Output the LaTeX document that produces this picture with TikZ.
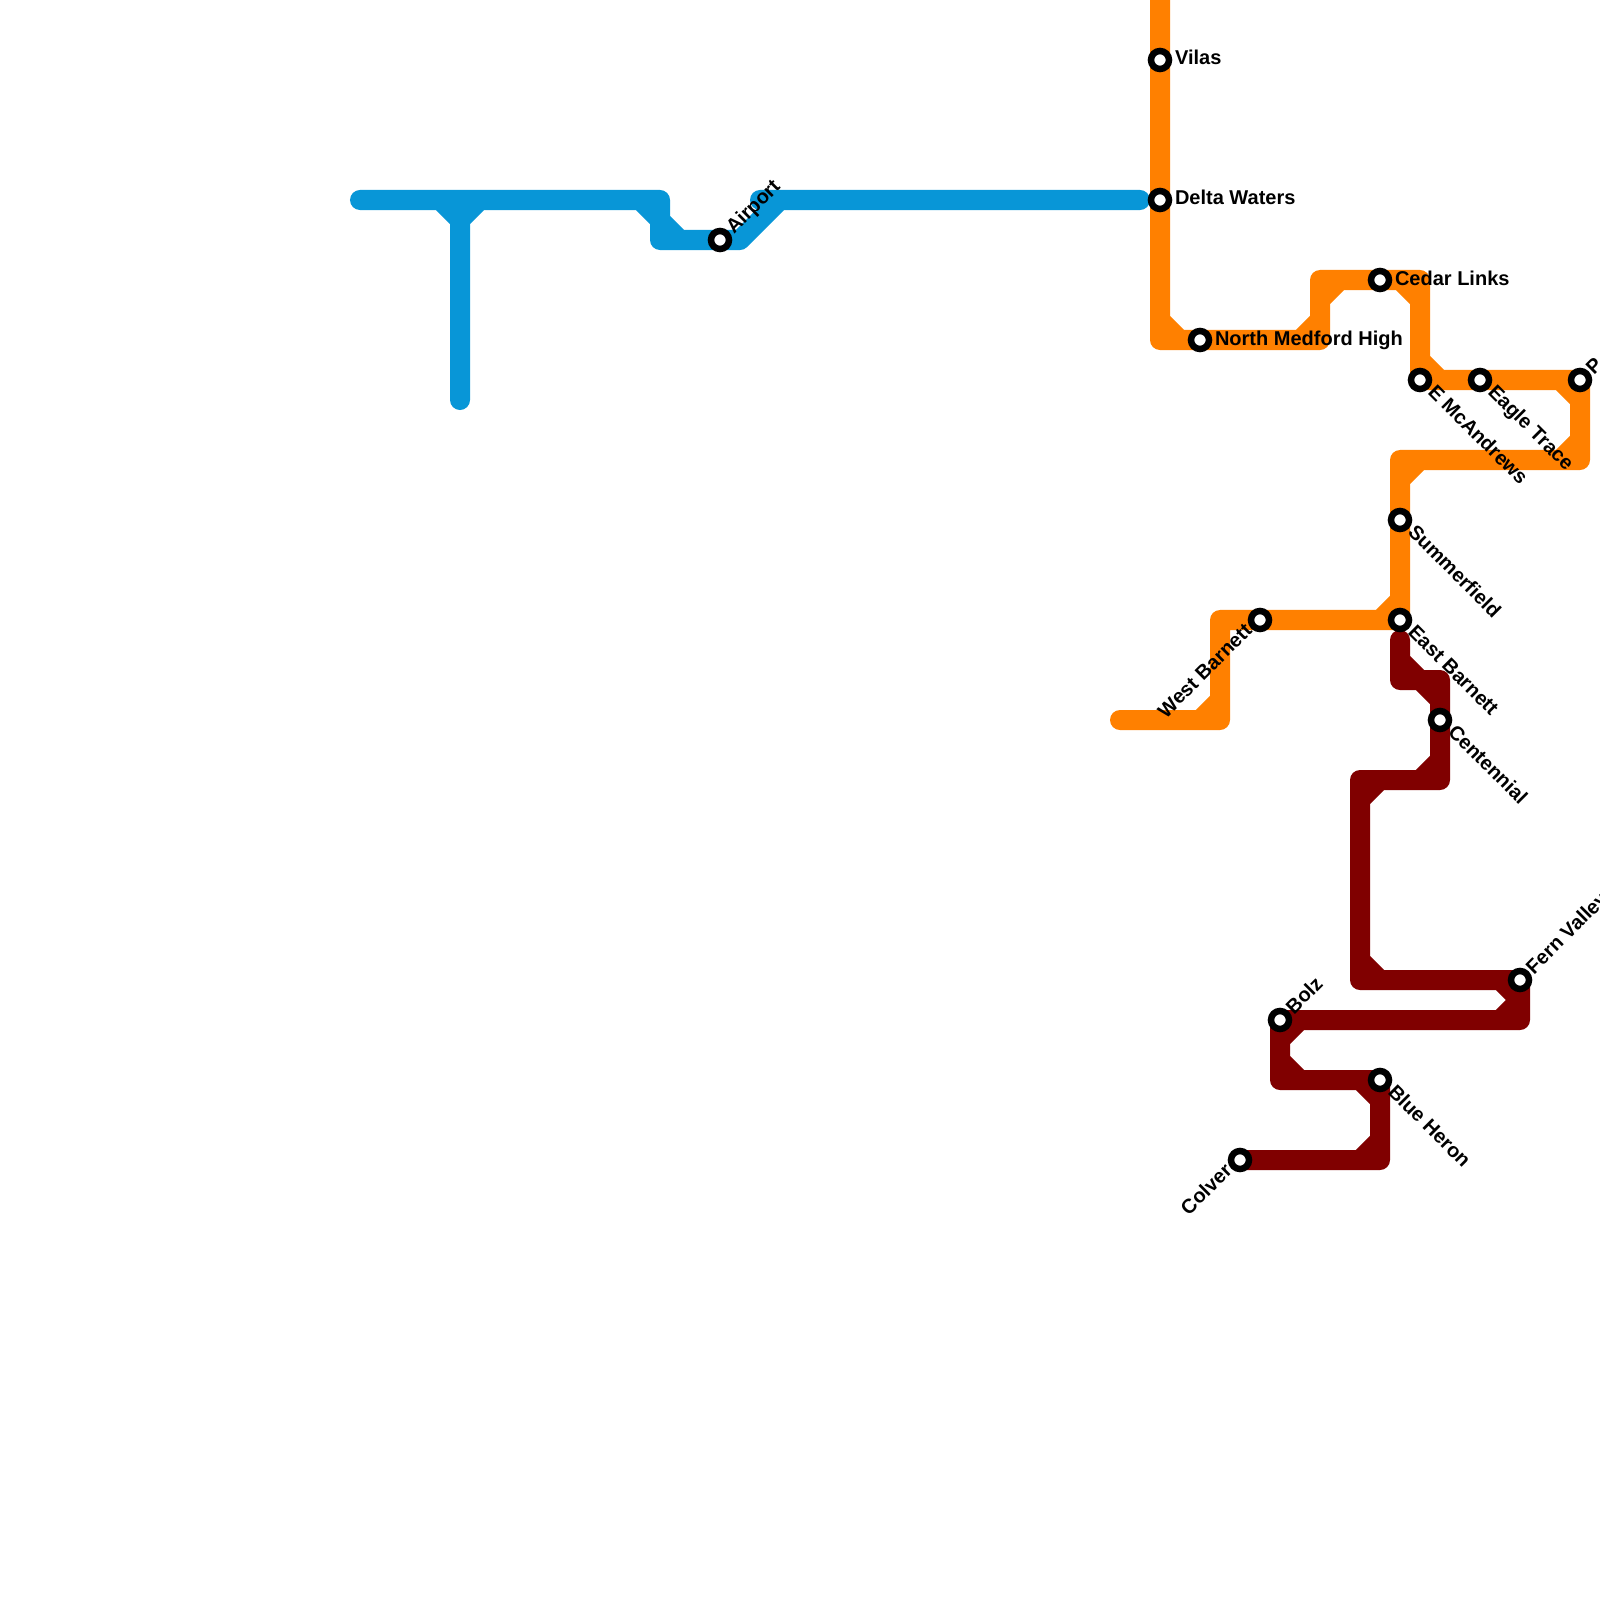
\documentclass[tikz,border=0pt]{standalone}
\usepackage{fontspec}
\setmainfont{Liberation Sans}
\usetikzlibrary{backgrounds}
\definecolor{lineblue}{HTML}{0896D7}
\definecolor{lineorange}{HTML}{FF8000}
\definecolor{linered}{HTML}{800000}
\tikzset{
  metro/.style={line width=0.2cm,line cap=round,line join=round},
  stn/.style={circle,draw=black,fill=white,line width=0.065cm,minimum size=0.18cm,inner sep=0pt,outer sep=0pt},
  lab/.style={font=\fontsize{5.69pt}{6.8pt}\selectfont\bfseries,text=black,inner sep=0pt,outer sep=0pt},
  labh/.style={lab,anchor=base west},
  labup/.style={lab,anchor=base west,rotate=45},
  labdn/.style={lab,anchor=base west,rotate=-45},
  labback/.style={lab,anchor=base east,rotate=45},
}
\begin{document}
\begin{tikzpicture}[x=0.01cm,y=-0.01cm]
\useasboundingbox (0,0) rectangle (1600,1600);
% stations
\node[stn] (vilas) at (1160,60) {};
\node[stn] (delta) at (1160,200) {};
\node[stn] (airport) at (720,240) {};
\node[stn] (nmh) at (1200,340) {};
\node[stn] (cedar) at (1380,280) {};
\node[stn] (mcandrews) at (1420,380) {};
\node[stn] (eagle) at (1480,380) {};
\node[stn] (pstn) at (1580,380) {};
\node[stn] (summer) at (1400,520) {};
\node[stn] (eastb) at (1400,620) {};
\node[stn] (westb) at (1260,620) {};
\node[stn] (centennial) at (1440,720) {};
\node[stn] (fern) at (1520,980) {};
\node[stn] (bolz) at (1280,1020) {};
\node[stn] (heron) at (1380,1080) {};
\node[stn] (colver) at (1240,1160) {};
% labels
\node[labh] (lvilas) at ([shift={(15,5)}]vilas.center) {Vilas};
\node[labh] (ldelta) at ([shift={(15,5)}]delta.center) {Delta Waters};
\node[labh] (lnmh) at ([shift={(15,5)}]nmh.center) {North Medford High};
\node[labh] (lcedar) at ([shift={(15,5)}]cedar.center) {Cedar Links};
\node[labup] (lairport) at ([shift={(14,-5)}]airport.center) {Airport};
\node[labup] (lpstn) at ([shift={(14,-5)}]pstn.center) {P};
\node[labup] (lfern) at ([shift={(14,-5)}]fern.center) {Fern Valley};
\node[labup] (lbolz) at ([shift={(14,-5)}]bolz.center) {Bolz};
\node[labdn] (lmcandrews) at ([shift={(7,13)}]mcandrews.center) {E McAndrews};
\node[labdn] (leagle) at ([shift={(7,13)}]eagle.center) {Eagle Trace};
\node[labdn] (lsummer) at ([shift={(7,13)}]summer.center) {Summerfield};
\node[labdn] (leastb) at ([shift={(7,13)}]eastb.center) {East Barnett};
\node[labdn] (lcentennial) at ([shift={(7,13)}]centennial.center) {Centennial};
\node[labdn] (lheron) at ([shift={(7,13)}]heron.center) {Blue Heron};
\node[labback] (lwestb) at ([shift={(-7,12)}]westb.center) {West Barnett};
\node[labback] (lcolver) at ([shift={(-7,12)}]colver.center) {Colver};
% free ends
\coordinate (bluew) at (360,200);
\coordinate (blues) at (460,400);
\coordinate (bluee) at (1140,200);
\coordinate (orangetop) at (1160,-20);
\coordinate (orangeend) at (1120,720);
\coordinate (redstart) at (1400,640);
\begin{scope}[on background layer]
\draw[metro,lineblue] (bluew) -- (660,200) -- (660,240) -- (airport.center) -- (740,240) -- (780,200)
  (760,200) -- (bluee)
  (460,200) -- (blues)
  (440,200) -- (460,220) -- (480,200)
  (640,200) -- (660,220) -- (680,240);
\draw[metro,lineorange] (orangetop) -- (vilas.center) -- (delta.center) -- (1160,340) -- (nmh.center) -- (1320,340) -- (1320,280) -- (cedar.center) -- (1420,280) -- (mcandrews.center) -- (eagle.center) -- (pstn.center) -- (1580,460) -- (1400,460) -- (summer.center) -- (eastb.center) -- (westb.center) -- (1220,620) -- (1220,720) -- (orangeend)
  (1160,320) -- (1180,340)
  (1300,340) -- (1320,320)
  (1320,300) -- (1340,280)
  (1400,280) -- (1420,300)
  (1420,360) -- (1440,380)
  (1560,380) -- (1580,400)
  (1560,460) -- (1580,440)
  (1400,480) -- (1420,460)
  (1380,620) -- (1400,600)
  (1200,720) -- (1220,700);
\draw[metro,linered] (redstart) -- (1400,680) -- (1440,680) -- (centennial.center) -- (1440,780) -- (1360,780) -- (1360,980) -- (fern.center) -- (1520,1020) -- (bolz.center) -- (1280,1080) -- (heron.center) -- (1380,1160) -- (colver.center)
  (1400,660) -- (1420,680) -- (1440,700)
  (1420,780) -- (1440,760)
  (1360,800) -- (1380,780)
  (1360,960) -- (1380,980)
  (1500,980) -- (1520,1000) -- (1500,1020)
  (1280,1040) -- (1300,1020)
  (1280,1060) -- (1300,1080)
  (1360,1080) -- (1380,1100)
  (1360,1160) -- (1380,1140);
\end{scope}
\end{tikzpicture}
\end{document}
